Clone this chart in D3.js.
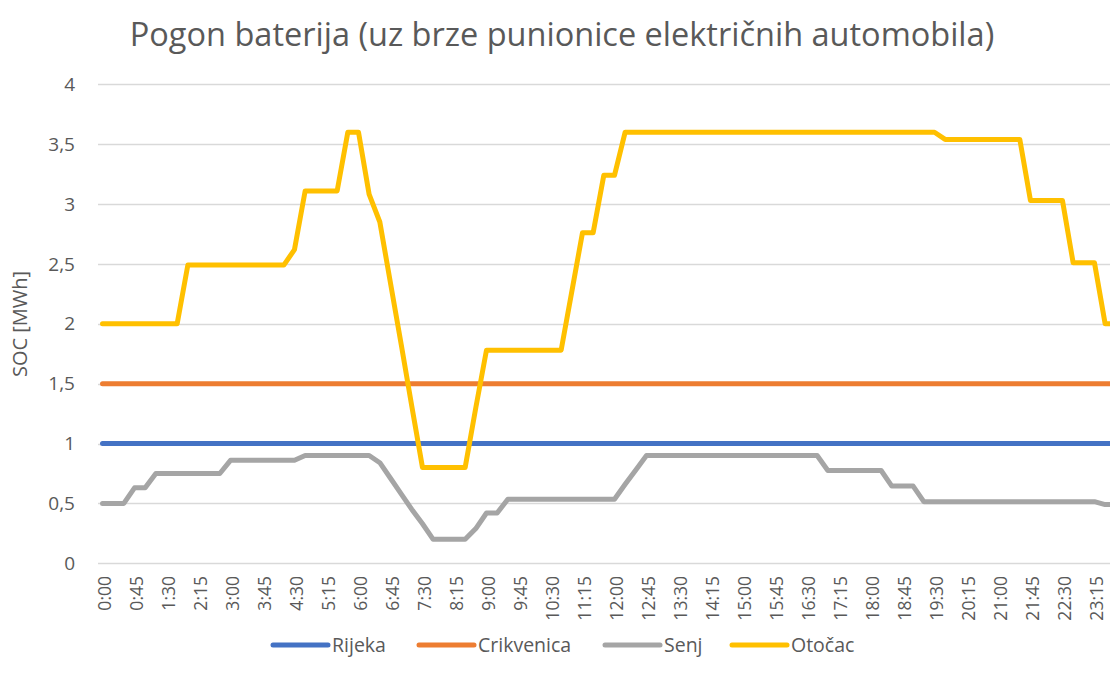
<!DOCTYPE html>
<html lang="hr">
<head>
<meta charset="utf-8">
<title>Pogon baterija</title>
<script src="https://cdn.jsdelivr.net/npm/d3@7"></script>
<style>
  body { margin: 0; background: #fff; }
  svg text { font-family: "Open Sans", "Noto Sans", sans-serif; fill: #595959; }
</style>
</head>
<body>
<script>
// chart size, same as the window
var w = 1110, h = 687;

// 15 min steps, 0:00 .. 23:45
var times = d3.range(96).map(function(i) {
  return Math.floor(i / 4) + ":" + ("0" + (i % 4) * 15).slice(-2);
});

var seriesNames = ["Rijeka", "Crikvenica", "Senj", "Otočac"];
var seriesColors = ["#4472C4", "#ED7D31", "#A5A5A5", "#FFC000"];

var rijeka = times.map(function() { return 1.0; });
var crikvenica = times.map(function() { return 1.5; });

var senj = [
  0.50, 0.50, 0.50, 0.63, 0.63, 0.75, 0.75, 0.75, 0.75, 0.75, 0.75, 0.75,
  0.86, 0.86, 0.86, 0.86, 0.86, 0.86, 0.86, 0.90, 0.90, 0.90, 0.90, 0.90,
  0.90, 0.90, 0.84, 0.71, 0.58, 0.45, 0.33, 0.20, 0.20, 0.20, 0.20, 0.29,
  0.42, 0.42, 0.535, 0.535, 0.535, 0.535, 0.535, 0.535, 0.535, 0.535, 0.535, 0.535,
  0.535, 0.66, 0.78, 0.90, 0.90, 0.90, 0.90, 0.90, 0.90, 0.90, 0.90, 0.90,
  0.90, 0.90, 0.90, 0.90, 0.90, 0.90, 0.90, 0.90, 0.775, 0.775, 0.775, 0.775,
  0.775, 0.775, 0.645, 0.645, 0.645, 0.515, 0.515, 0.515, 0.515, 0.515, 0.515, 0.515,
  0.515, 0.515, 0.515, 0.515, 0.515, 0.515, 0.515, 0.515, 0.515, 0.515, 0.49, 0.49
];

var otocac = [
  2.00, 2.00, 2.00, 2.00, 2.00, 2.00, 2.00, 2.00, 2.49, 2.49, 2.49, 2.49,
  2.49, 2.49, 2.49, 2.49, 2.49, 2.49, 2.62, 3.11, 3.11, 3.11, 3.11, 3.60,
  3.60, 3.08, 2.85, 2.34, 1.83, 1.31, 0.80, 0.80, 0.80, 0.80, 0.80, 1.30,
  1.78, 1.78, 1.78, 1.78, 1.78, 1.78, 1.78, 1.78, 2.27, 2.76, 2.76, 3.24,
  3.24, 3.60, 3.60, 3.60, 3.60, 3.60, 3.60, 3.60, 3.60, 3.60, 3.60, 3.60,
  3.60, 3.60, 3.60, 3.60, 3.60, 3.60, 3.60, 3.60, 3.60, 3.60, 3.60, 3.60,
  3.60, 3.60, 3.60, 3.60, 3.60, 3.60, 3.60, 3.54, 3.54, 3.54, 3.54, 3.54,
  3.54, 3.54, 3.54, 3.03, 3.03, 3.03, 3.03, 2.51, 2.51, 2.51, 2.00, 2.00
];

var yTicks = [0, 0.5, 1, 1.5, 2, 2.5, 3, 3.5, 4];

var seriesValues = [rijeka, crikvenica, senj, otocac];

// the right edge of the plot runs past the picture, as in the original
var x = d3.scaleLinear().domain([0, 95]).range([102.5, 1115.8]);
var y = d3.scaleLinear().domain([0, 4]).range([563.3, 84.3]);

var svg = d3.select("body").append("svg")
  .attr("width", w)
  .attr("height", h);

// title
svg.append("text")
  .attr("x", 562)
  .attr("y", 46)
  .attr("text-anchor", "middle")
  .style("font-size", "32.5px")
  .text("Pogon baterija (uz brze punionice električnih automobila)");

// horizontal gridlines
svg.append("g").selectAll("line")
  .data(yTicks)
  .enter().append("line")
  .attr("x1", 98)
  .attr("x2", 1125)
  .attr("y1", function(d) { return Math.round(y(d)) + 0.5; })
  .attr("y2", function(d) { return Math.round(y(d)) + 0.5; })
  .attr("stroke", "#D9D9D9")
  .attr("stroke-width", 1.3);

// y axis labels
var fmt = function(d) { return String(d).replace(".", ","); };
svg.append("g").selectAll("text")
  .data(yTicks)
  .enter().append("text")
  .attr("x", 75)
  .attr("y", function(d) { return y(d); })
  .attr("dy", "0.35em")
  .attr("text-anchor", "end")
  .style("font-size", "19px")
  .text(fmt);

// y axis title
svg.append("text")
  .attr("transform", "translate(27,324) rotate(-90)")
  .attr("text-anchor", "middle")
  .style("font-size", "20px")
  .text("SOC [MWh]");

// x axis labels, every third step
svg.append("g").selectAll("text")
  .data(times.filter(function(d, i) { return i % 3 === 0; }))
  .enter().append("text")
  .attr("transform", function(d) {
    return "translate(" + (x(times.indexOf(d)) + 2.5) + ",576) rotate(-90)";
  })
  .attr("dy", "0.35em")
  .attr("text-anchor", "end")
  .style("font-size", "17.5px")
  .text(function(d) { return d; });

// lines
var line = d3.line()
  .x(function(d, i) { return x(i); })
  .y(function(d) { return y(d); });

svg.append("g").selectAll("path")
  .data(seriesValues)
  .enter().append("path")
  .attr("d", line)
  .attr("fill", "none")
  .attr("stroke", function(d, i) { return seriesColors[i]; })
  .attr("stroke-width", 5)
  .attr("stroke-linejoin", "round")
  .attr("stroke-linecap", "round");

// legend
var legendX = [273, 419, 605, 732];
var legend = svg.append("g").selectAll("g")
  .data(seriesNames)
  .enter().append("g")
  .attr("transform", function(d, i) { return "translate(" + legendX[i] + ",645)"; });

legend.append("line")
  .attr("x1", 0).attr("x2", 55)
  .attr("y1", 0).attr("y2", 0)
  .attr("stroke", function(d, i) { return seriesColors[i]; })
  .attr("stroke-width", 5)
  .attr("stroke-linecap", "round");

legend.append("text")
  .attr("x", 59)
  .attr("dy", "0.35em")
  .style("font-size", "19.5px")
  .text(function(d) { return d; });
</script>
</body>
</html>
